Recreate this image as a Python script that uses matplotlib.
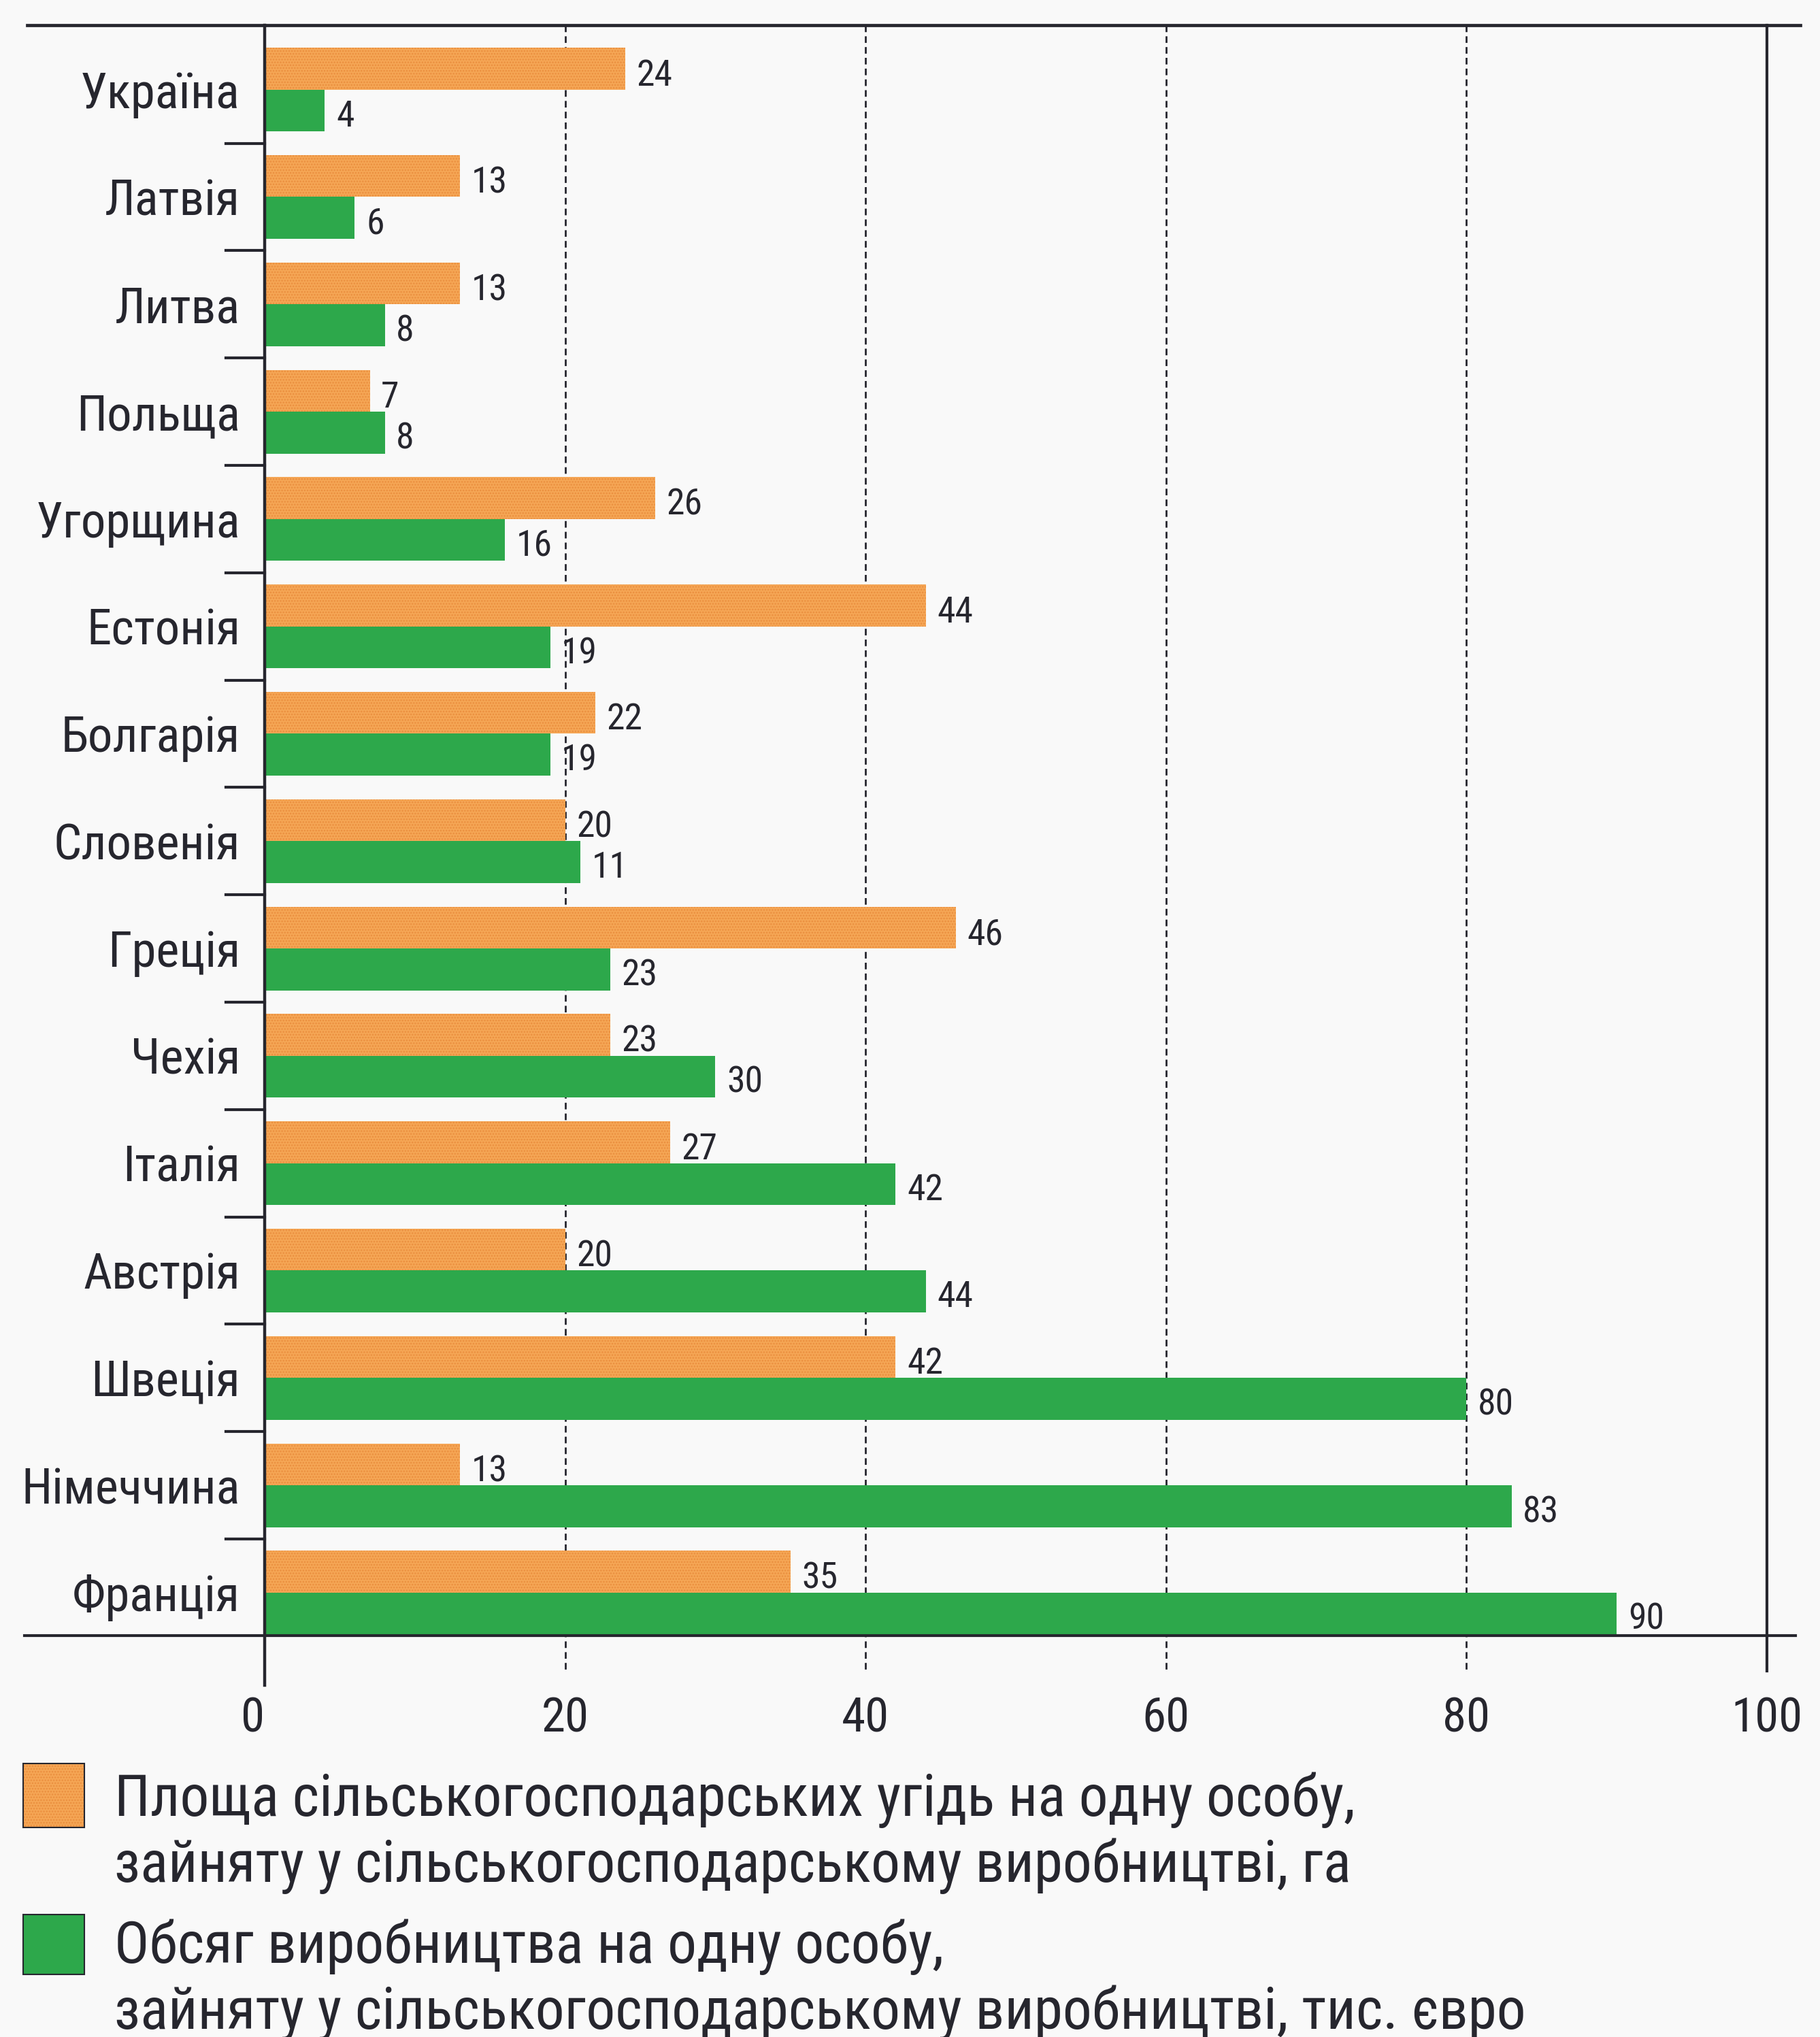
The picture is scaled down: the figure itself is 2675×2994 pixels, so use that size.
import matplotlib
matplotlib.use("Agg")
import matplotlib.pyplot as plt
from matplotlib import font_manager
from matplotlib.font_manager import FontProperties
from matplotlib.patches import Rectangle
import numpy as np

plt.rcParams['hatch.linewidth'] = 1.2

# data (top to bottom)
countries = ['Україна', 'Латвія', 'Литва', 'Польща', 'Угорщина', 'Естонія', 'Болгарія',
             'Словенія', 'Греція', 'Чехія', 'Італія', 'Австрія', 'Швеція', 'Німеччина', 'Франція']
land_ha = [24, 13, 13, 7, 26, 44, 22, 20, 46, 23, 27, 20, 42, 13, 35]
output_eur = [4, 6, 8, 8, 16, 19, 19, 21, 23, 30, 42, 44, 80, 83, 90]
# printed numbers (Slovenia's green bar is drawn at ~21 but labelled 11)
land_labels = ['24', '13', '13', '7', '26', '44', '22', '20', '46', '23', '27', '20', '42', '13', '35']
output_labels = ['4', '6', '8', '8', '16', '19', '19', '11', '23', '30', '42', '44', '80', '83', '90']
x_ticks = [0, 20, 40, 60, 80, 100]

legend_land = 'Площа сільськогосподарських угідь на одну особу,\nзайняту у сільськогосподарському виробництві, га'
legend_output = 'Обсяг виробництва на одну особу,\nзайняту у сільськогосподарському виробництві, тис. євро'


def pick_font():
    # look for a narrow sans face in regular weight, the original uses a condensed grotesque
    wanted = ['liberationsansnarrow-regular', 'robotocondensed-regular', 'notosans-condensed.',
              'notosans-condensedregular', 'opensans-condensed', 'dejavusanscondensed.',
              'robotocondensed', 'notosans-condensed', 'liberationsans-regular']
    bad = ['bold', 'italic', 'medium', 'semi', 'light', 'thin', 'black', 'extra', 'heavy']
    files = [f.fname for f in font_manager.fontManager.ttflist]
    for w in wanted:
        for fn in files:
            base = fn.replace('\\', '/').split('/')[-1].lower()
            if base.startswith(w) and not any(b in base for b in bad):
                return FontProperties(fname=fn)
    return FontProperties(family='Liberation Sans')


fp = pick_font()

orange = '#F5A655'
orange_dots = '#EA8E3E'
green = '#2DA84B'
ink = '#26262e'

W, H = 2675, 2994
fig = plt.figure(figsize=(W / 100, H / 100), dpi=100, facecolor='#f9f9f9')
renderer = fig.canvas.get_renderer()


def fit_size(s, target_px):
    t = fig.text(0, 0, s, fontproperties=fp, fontsize=100)
    w = t.get_window_extent(renderer).width
    t.remove()
    return 100 * target_px / w


cat_size = min(fit_size('Німеччина', 322), 60)
tick_size = min(fit_size('100', 105), 60)
val_size = min(fit_size('24', 53), 46)
leg_size = min(fit_size(legend_output.split('\n')[1], 2075), 64)

ax = fig.add_axes([389 / W, 1 - 2404 / H, (2597 - 389) / W, (2404 - 37) / H])
ax.set_facecolor('none')
ax.set_xlim(0, 100)
ax.set_ylim(14.90, -0.10)

pos = np.arange(len(countries))
ax.barh(pos + 0.305, land_ha, height=0.39, color=orange, edgecolor=orange_dots,
        linewidth=0, hatch='....')
ax.barh(pos + 0.695, output_eur, height=0.39, color=green, linewidth=0)

# value labels
for k in range(len(countries)):
    ax.annotate(land_labels[k], (land_ha[k], k + 0.37), xytext=(12, 0),
                textcoords='offset points', va='center', ha='left',
                fontproperties=fp, fontsize=val_size, color=ink)
    ax.annotate(output_labels[k], (output_eur[k], k + 0.75), xytext=(12, 0),
                textcoords='offset points', va='center', ha='left',
                fontproperties=fp, fontsize=val_size, color=ink)

# frame lines
for s in ax.spines.values():
    s.set_visible(False)
ax.plot([-15.8, 102.2], [-0.10, -0.10], color=ink, lw=3.4, clip_on=False)
ax.plot([-16.0, 101.9], [14.90, 14.90], color=ink, lw=3.0, clip_on=False)
ax.plot([0, 0], [-0.10, 15.36], color=ink, lw=3.2, clip_on=False)
ax.plot([100, 100], [-0.10, 15.23], color=ink, lw=3.0, clip_on=False)
for xv in [20, 40, 60, 80]:
    ax.plot([xv, xv], [-0.10, 15.23], color=ink, lw=2.0, ls=(0, (3.5, 2.2)),
            clip_on=False, zorder=0.5)
for k in range(1, len(countries)):
    ax.plot([-2.58, 0], [k, k], color=ink, lw=3.0, clip_on=False)

ax.set_xticks(x_ticks)
ax.set_xticklabels([str(t) for t in x_ticks], fontproperties=fp, fontsize=tick_size, color=ink)
ax.get_xticklabels()[0].set_ha('right')
ax.set_yticks(pos + 0.5)
ax.set_yticklabels(countries, fontproperties=fp, fontsize=cat_size, color=ink)
ax.tick_params(axis='x', length=0, pad=64)
ax.tick_params(axis='y', length=0, pad=26)

# legend
fig.add_artist(Rectangle((34 / W, 1 - 2686 / H), 90 / W, 94 / H, transform=fig.transFigure,
                         facecolor=orange, edgecolor=orange_dots, linewidth=0, hatch='....'))
fig.add_artist(Rectangle((34 / W, 1 - 2686 / H), 90 / W, 94 / H, transform=fig.transFigure,
                         facecolor='none', edgecolor=ink, linewidth=1.5))
fig.add_artist(Rectangle((34 / W, 1 - 2902 / H), 90 / W, 88 / H, transform=fig.transFigure,
                         facecolor=green, edgecolor=ink, linewidth=1.5))
fig.text(168 / W, 1 - 2694 / H, legend_land, fontproperties=fp, fontsize=leg_size,
         color=ink, va='center', ha='left', linespacing=1.22)
fig.text(168 / W, 1 - 2910 / H, legend_output, fontproperties=fp, fontsize=leg_size,
         color=ink, va='center', ha='left', linespacing=1.22)

fig.savefig('out.png', dpi=100, facecolor=fig.get_facecolor())
